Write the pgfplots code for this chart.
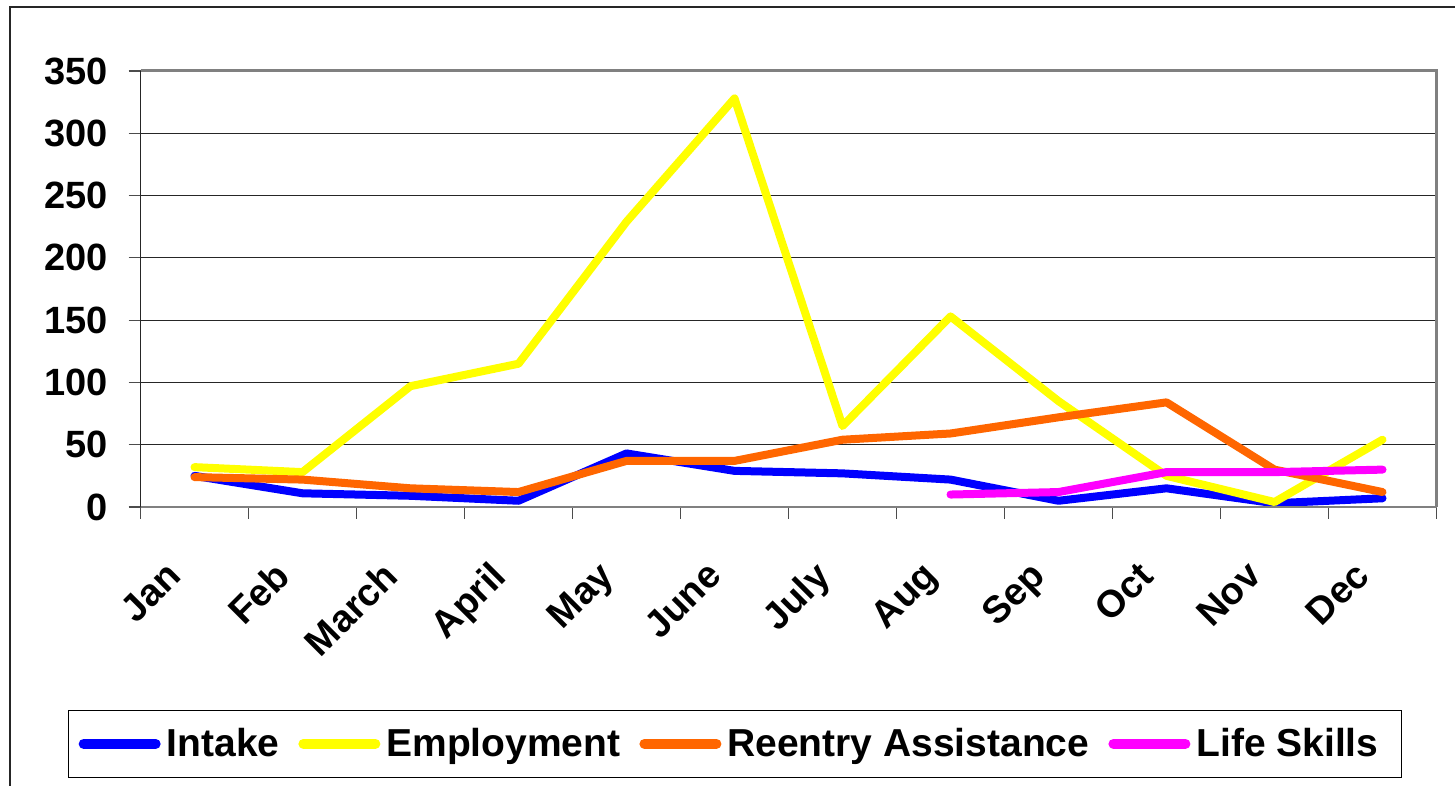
\documentclass[border=0pt]{standalone}
\usepackage{fontspec}
\setmainfont{Liberation Sans}
\usepackage{pgfplots}
\pgfplotsset{compat=1.18}
\definecolor{cIntake}{RGB}{0,0,255}
\definecolor{cEmp}{RGB}{255,255,0}
\definecolor{cRe}{RGB}{255,102,0}
\definecolor{cLife}{RGB}{255,0,255}
\begin{document}
\begin{tikzpicture}
\useasboundingbox (0,0) rectangle (727.5pt,393pt);
\draw[black!85, line width=0.8pt] (5pt,0pt) -- (5pt,389.5pt) -- (727.5pt,389.5pt);
\begin{axis}[
  at={(70.25pt,139.5pt)}, anchor=south west,
  width=648pt, height=218pt, scale only axis,
  xmin=0.5, xmax=12.5, ymin=0, ymax=350,
  xtick={1,...,12},
  xticklabels={Jan,Feb,March,April,May,June,July,Aug,Sep,Oct,Nov,Dec},
  minor xtick={0.5,1.5,...,12.5},
  major x tick style={draw=none},
  minor tick length=6pt,
  major tick length=6pt,
  tick align=outside,
  tick pos=left,
  ytick={0,50,...,350},
  ymajorgrids,
  grid style={black!85, line width=0.5pt},
  axis line style={draw=none},
  tick style={black!70, line width=0.6pt},
  /pgf/number format/assume math mode=true,
  tick label style={font=\fontsize{19}{22}\selectfont\bfseries},
  yticklabel style={anchor=east, inner sep=0pt, xshift=-10pt},
  xticklabel style={xshift=-15pt, yshift=-20pt, rotate=45, anchor=north east, inner sep=0pt},
  legend style={at={(axis description cs:-0.0559,-0.6216)}, anchor=south west,
    draw=black, line width=0.6pt, fill=white, legend columns=4,
    inner xsep=5pt, inner ysep=6pt,
    font=\fontsize{19.5}{22}\selectfont\bfseries,
    /tikz/every odd column/.append style={column sep=3pt},
    /tikz/every even column/.append style={column sep=9.5pt},
    nodes={inner xsep=0pt, inner ysep=3pt}},
  legend image code/.code={\draw[#1, line cap=round, line width=5pt] (0pt,0pt) -- (36pt,0pt);},
  every axis plot/.append style={line width=4pt, line join=round, line cap=round},
  after end axis/.code={
    \draw[black!85, line width=0.8pt] (rel axis cs:0,0) -- (rel axis cs:0,1);
    \draw[black!50, line width=1pt] (rel axis cs:0,0) -- (rel axis cs:1,0);
    \draw[black!50, line width=1.5pt] (rel axis cs:0,1) -- (rel axis cs:1,1) -- (rel axis cs:1,0);
  },
]
\addplot[cIntake] coordinates {(1,25)(2,11)(3,9)(4,5)(5,43)(6,29)(7,27)(8,22)(9,5)(10,15)(11,3)(12,7)};
\addlegendentry{Intake}
\addplot[cEmp] coordinates {(1,32)(2,28)(3,97)(4,115)(5,229)(6,328)(7,65)(8,153)(9,85)(10,25)(11,4)(12,54)};
\addlegendentry{Employment}
\addplot[cRe] coordinates {(1,24)(2,22)(3,15)(4,12)(5,37)(6,37)(7,54)(8,59)(9,72)(10,84)(11,30)(12,12)};
\addlegendentry{Reentry Assistance}
\addplot[cLife] coordinates {(8,10)(9,12)(10,28)(11,28)(12,30)};
\addlegendentry{Life Skills\hspace*{6.5pt}}
\end{axis}
\end{tikzpicture}
\end{document}
